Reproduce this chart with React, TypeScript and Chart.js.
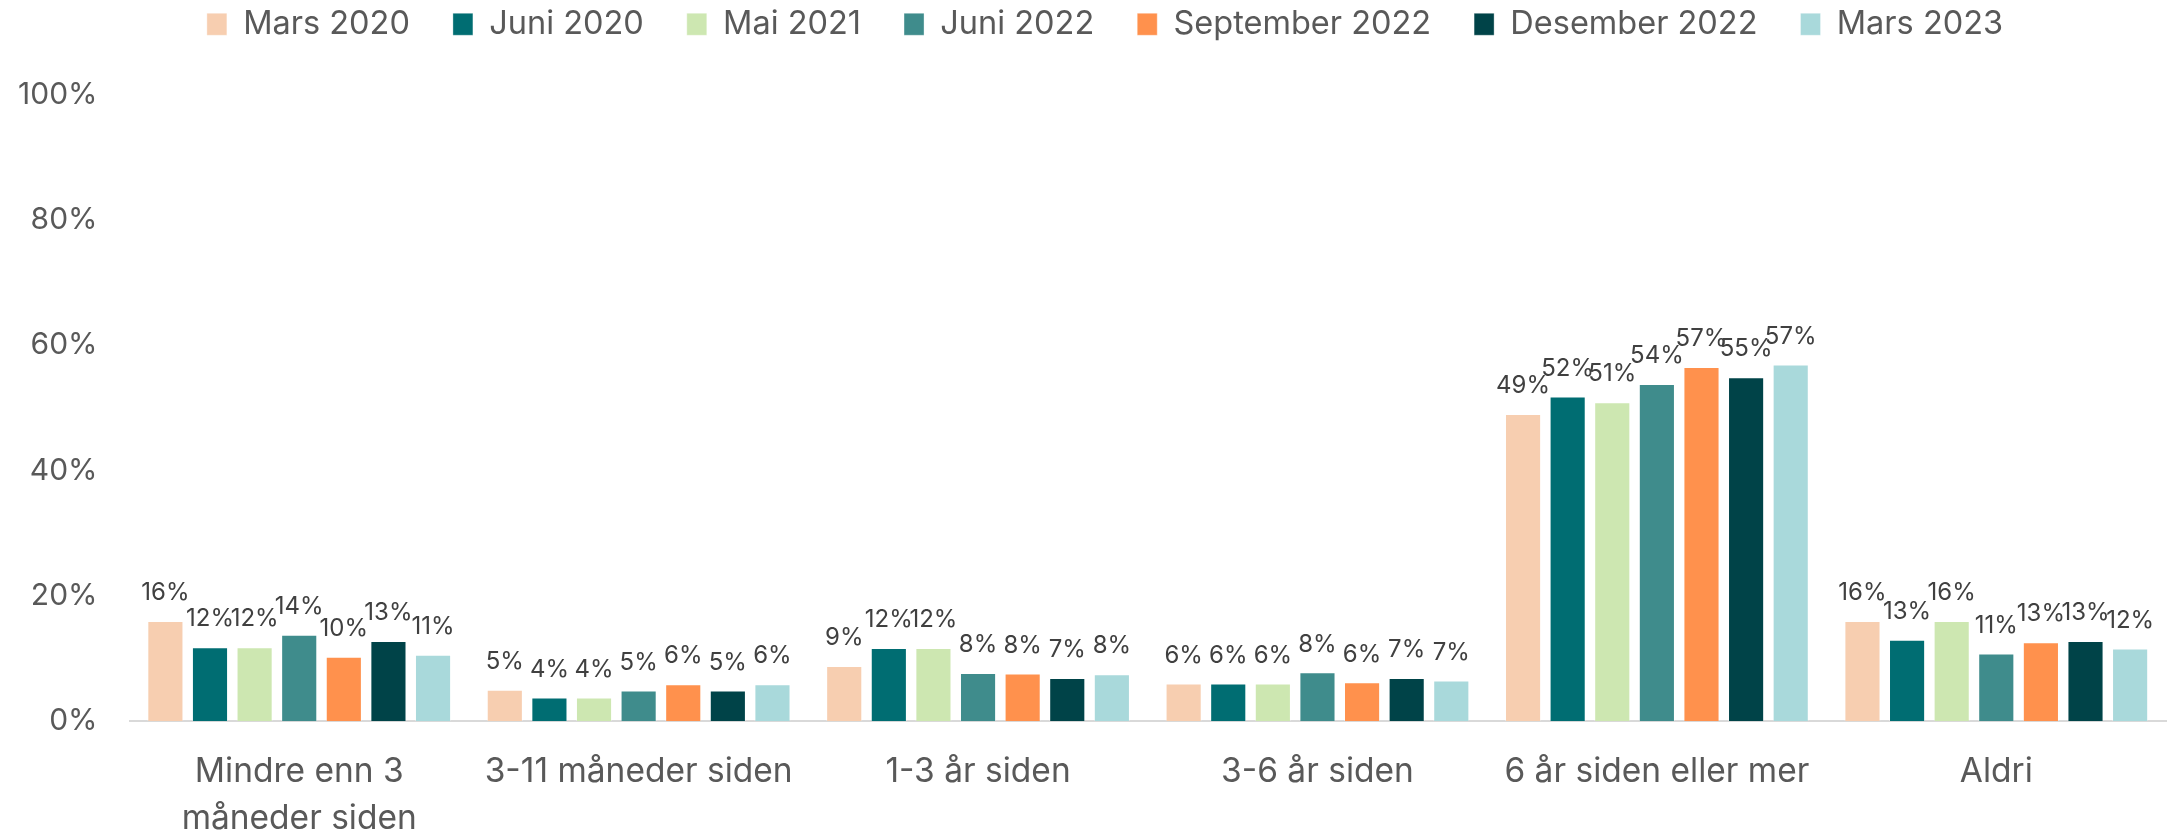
import React, { useEffect, useRef } from "react";
import { Chart, registerables } from "chart.js";
Chart.register(...registerables);

const categories: (string | string[])[] = [
  ["Mindre enn 3", "måneder siden"],
  "3-11 måneder siden",
  "1-3 år siden",
  "3-6 år siden",
  "6 år siden eller mer",
  "Aldri",
];
const seriesNames = ["Mars 2020", "Juni 2020", "Mai 2021", "Juni 2022", "September 2022", "Desember 2022", "Mars 2023"];
const seriesColors = ["#F7CEB0", "#006D72", "#CDE7B1", "#3F8C8C", "#FF914D", "#004348", "#A9D9DB"];
const mars2020 = [16, 5, 8.8, 6, 49, 16];
const juni2020 = [11.8, 3.8, 11.7, 6, 51.8, 13];
const mai2021 = [11.8, 3.8, 11.7, 6, 50.9, 16];
const juni2022 = [13.8, 4.9, 7.7, 7.8, 53.8, 10.8];
const sep2022 = [10.3, 5.9, 7.6, 6.2, 56.5, 12.6];
const des2022 = [12.8, 4.9, 6.9, 6.9, 54.9, 12.8];
const mars2023 = [10.6, 5.9, 7.5, 6.5, 56.9, 11.6];
const seriesValues = [mars2020, juni2020, mai2021, juni2022, sep2022, des2022, mars2023];
const yTicks = [0, 20, 40, 60, 80, 100];

const FONT = "Inter";

const labelPlugin = {
  id: "barLabels",
  afterDatasetsDraw(chart: any) {
    const ctx = chart.ctx;
    ctx.save();
    ctx.font = `24px ${FONT}`;
    ctx.fillStyle = "#404040";
    ctx.textAlign = "center";
    ctx.textBaseline = "bottom";
    chart.data.datasets.forEach((ds: any, i: number) => {
      const meta = chart.getDatasetMeta(i);
      meta.data.forEach((bar: any, j: number) => {
        const v = ds.data[j];
        ctx.fillText(Math.round(v) + "%", bar.x, bar.y - 16);
      });
    });
    ctx.restore();
  },
};

const legendShift = {
  id: "legendShift",
  beforeInit(chart: any) {
    const lg = chart.legend;
    const origFit = lg.fit;
    lg.fit = function () {
      origFit.call(this);
      this.height += 44;
    };
    const origDraw = lg.draw;
    lg.draw = function (...args: any[]) {
      const ctx = this.ctx;
      ctx.save();
      ctx.translate(29, 0);
      origDraw.apply(this, args);
      ctx.restore();
    };
  },
};

export default function App() {
  const ref = useRef<HTMLCanvasElement>(null);
  useEffect(() => {
    document.body.style.margin = "0";
    const chart = new Chart(ref.current!, {
      type: "bar",
      data: {
        labels: categories,
        datasets: seriesNames.map((name, i) => ({
          label: name,
          data: seriesValues[i],
          backgroundColor: seriesColors[i],
          borderColor: "rgba(255,255,255,0.35)",
          borderWidth: 1,
          categoryPercentage: 0.92,
          barPercentage: 0.81,
        })),
      },
      options: {
        animation: false,
        responsive: false,
        maintainAspectRatio: false,
        layout: { padding: { left: -14, right: 7, top: -35, bottom: -34 } },
        plugins: {
          tooltip: { enabled: false },
          legend: {
            position: "top",
            labels: {
              boxWidth: 20,
              boxHeight: 22,
              padding: 43,
              color: "#595959",
              font: { family: FONT, size: 32.5 },
            },
          },
        },
        scales: {
          x: {
            grid: { display: false, drawTicks: false },
            border: { display: true, color: "#D9D9D9", width: 2 },
            ticks: {
              color: "#595959",
              padding: 27,
              maxRotation: 0,
              autoSkip: false,
              font: { family: FONT, size: 33.5, lineHeight: 1.4 },
            },
          },
          y: {
            min: 0,
            max: 100,
            afterBuildTicks: (axis: any) => {
              axis.ticks = yTicks.map((v) => ({ value: v }));
            },
            grid: { display: false, drawTicks: false },
            border: { display: false },
            ticks: {
              color: "#595959",
              padding: 32,
              font: { family: FONT, size: 30 },
              callback: (v: any) => v + "%",
            },
          },
        },
      },
      plugins: [labelPlugin, legendShift],
    });
    return () => chart.destroy();
  }, []);
  return (
    <div style={{ width: 2173, height: 835 }}>
      <canvas ref={ref} width={2173} height={835} style={{ width: 2173, height: 835, display: "block" }} />
    </div>
  );
}
